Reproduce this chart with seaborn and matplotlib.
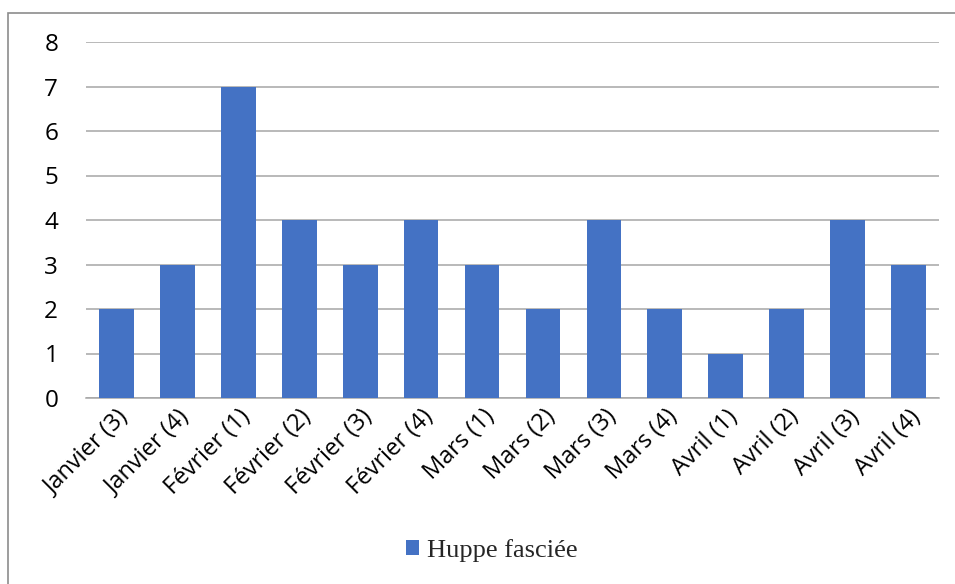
import matplotlib
matplotlib.use("Agg")
import matplotlib.pyplot as plt
from matplotlib.patches import Rectangle, Patch
import seaborn as sns
import pandas as pd

# Weekly sightings of the Eurasian hoopoe
periods = ["Janvier (3)", "Janvier (4)", "Février (1)", "Février (2)", "Février (3)",
           "Février (4)", "Mars (1)", "Mars (2)", "Mars (3)", "Mars (4)",
           "Avril (1)", "Avril (2)", "Avril (3)", "Avril (4)"]
counts = [2, 3, 7, 4, 3, 4, 3, 2, 4, 2, 1, 2, 4, 3]
series_name = "Huppe fasciée"

df = pd.DataFrame({"period": periods, "count": counts})

sns.set_theme(style="white")
plt.rcParams["font.family"] = ["Open Sans", "DejaVu Sans"]

bar_color = "#4472C4"
grid_color = "#a6a6a6"

fig = plt.figure(figsize=(9.55, 5.84), dpi=100)
ax = fig.add_axes([86 / 955, 1 - 398 / 584, (939 - 86) / 955, (398 - 42) / 584])

sns.barplot(data=df, x="period", y="count", color=bar_color, width=0.57,
            saturation=1, linewidth=0, edgecolor="none", ax=ax, zorder=3)

ax.set_ylim(0, 8)
ax.set_yticks(range(0, 9))
ax.set_xlim(-0.5, len(periods) - 0.5)
ax.yaxis.grid(True, color=grid_color, linewidth=1.1, zorder=0)
ax.set_axisbelow(True)
for side in ["top", "right", "left"]:
    ax.spines[side].set_visible(False)
ax.spines["bottom"].set_color(grid_color)
ax.spines["bottom"].set_linewidth(1.1)
ax.set_xlabel("")
ax.set_ylabel("")
ax.tick_params(axis="both", length=0, colors="black")
ax.tick_params(axis="y", pad=20, labelsize=17.5)
ax.tick_params(axis="x", pad=5, labelsize=17)
for lbl in ax.get_xticklabels():
    lbl.set_rotation(45)
    lbl.set_ha("right")
    lbl.set_rotation_mode("anchor")

# Legend below the axis labels
handle = Patch(facecolor=bar_color, edgecolor="none")
fig.legend([handle], [series_name], loc="center", bbox_to_anchor=(0.515, 0.058),
           frameon=False, handlelength=0.5, handleheight=0.5, handletextpad=0.3,
           prop={"family": "Liberation Serif", "size": 19})

# Chart frame
fig.patches.append(Rectangle((8 / 955, -0.5), 2.0, 0.5 + 1 - 13 / 584,
                             transform=fig.transFigure, fill=False,
                             edgecolor="#8c8c8c", linewidth=1.2))

fig.savefig("out.png", dpi=100)
